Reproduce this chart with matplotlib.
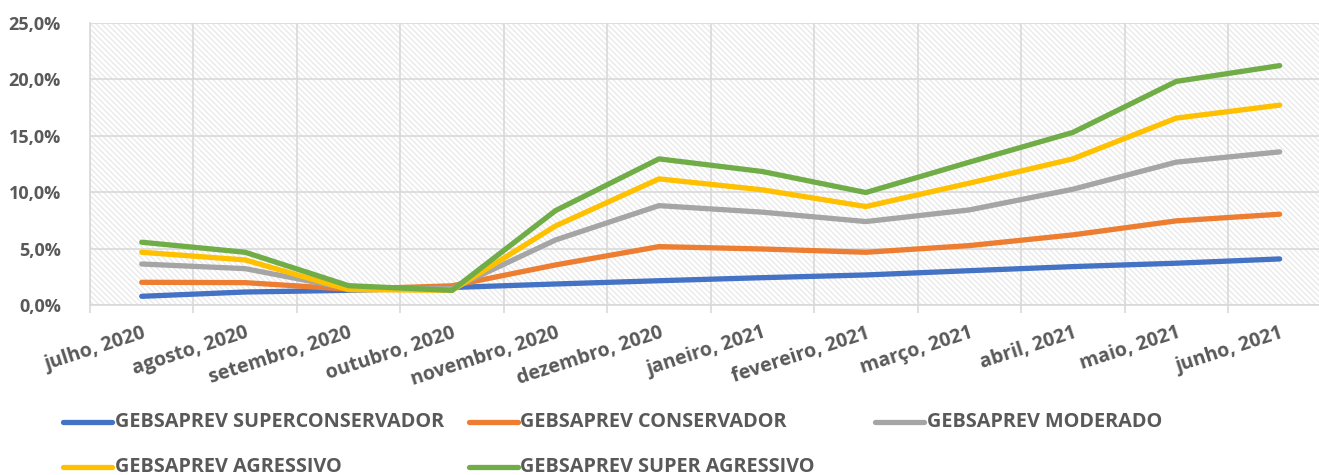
import numpy as np
import matplotlib.pyplot as plt
from matplotlib.lines import Line2D
from matplotlib.patches import Rectangle
from matplotlib.ticker import FuncFormatter

plt.rcParams['font.family'] = ['Open Sans', 'DejaVu Sans']
plt.rcParams['font.weight'] = 'bold'
plt.rcParams['hatch.linewidth'] = 0.9

# dados (rentabilidade acumulada, %)
meses = ['julho, 2020', 'agosto, 2020', 'setembro, 2020', 'outubro, 2020',
         'novembro, 2020', 'dezembro, 2020', 'janeiro, 2021', 'fevereiro, 2021',
         'março, 2021', 'abril, 2021', 'maio, 2021', 'junho, 2021']

superconservador = [0.77, 1.15, 1.30, 1.55, 1.86, 2.15, 2.42, 2.66, 3.04, 3.40, 3.70, 4.08]
conservador = [2.01, 1.98, 1.40, 1.70, 3.55, 5.17, 4.96, 4.67, 5.26, 6.21, 7.45, 8.04]
moderado = [3.63, 3.22, 1.45, 1.45, 5.76, 8.80, 8.22, 7.39, 8.42, 10.25, 12.65, 13.56]
agressivo = [4.67, 3.99, 1.36, 1.30, 7.00, 11.17, 10.20, 8.72, 10.79, 12.94, 16.55, 17.70]
super_agressivo = [5.56, 4.67, 1.71, 1.30, 8.36, 12.94, 11.82, 9.96, 12.65, 15.28, 19.80, 21.20]

series = [
    ('GEBSAPREV SUPERCONSERVADOR', superconservador, '#4472C4'),
    ('GEBSAPREV CONSERVADOR', conservador, '#ED7D31'),
    ('GEBSAPREV MODERADO', moderado, '#A5A5A5'),
    ('GEBSAPREV AGRESSIVO', agressivo, '#FFC000'),
    ('GEBSAPREV SUPER AGRESSIVO', super_agressivo, '#70AD47'),
]

W, H = 1319, 475
fig = plt.figure(figsize=(W / 100, H / 100), dpi=100)
ax = fig.add_axes([90 / W, 1 - 305 / H, (W - 90) / W, (305 - 22.7) / H])

# fundo hachurado estilo Excel
ax.add_patch(Rectangle((0, 0), 1, 1, transform=ax.transAxes, facecolor='white',
                       edgecolor='#E8E8E8', hatch='\\' * 6, lw=0, zorder=0))

x = np.arange(len(meses)) + 0.5
for nome, vals, cor in series:
    ax.plot(x, vals, color=cor, lw=3.8, solid_capstyle='round',
            solid_joinstyle='round', zorder=3, label=nome)

ax.set_xlim(0, (W - 90) / 103.45)
ax.set_ylim(0, 25)

ax.set_xticks(np.arange(0, 12))
ax.set_xticklabels([])
ax.set_xticks(x, minor=True)
ax.set_xticklabels(meses, minor=True, rotation=18, ha='right', va='top',
                   rotation_mode='anchor', fontsize=14, color='#595959',
                   fontweight='bold')
ax.tick_params(axis='x', which='major', length=6, color='#D9D9D9', width=1.2)
ax.tick_params(axis='x', which='minor', length=0, pad=13)

ax.set_yticks(np.arange(0, 26, 5))
ax.yaxis.set_major_formatter(FuncFormatter(lambda v, p: f'{v:.1f}%'.replace('.', ',')))
ax.tick_params(axis='y', length=0, pad=21, labelsize=13, labelcolor='#595959')
for t in ax.get_yticklabels():
    t.set_fontweight('bold')

ax.grid(True, which='major', color='#D9D9D9', lw=1.2, zorder=1)
ax.set_axisbelow(True)
for s in ['top', 'right']:
    ax.spines[s].set_visible(False)
for s in ['left', 'bottom']:
    ax.spines[s].set_color('#D9D9D9')
    ax.spines[s].set_linewidth(1.2)

# legenda manual (3 colunas como no Excel)
col_x = [63, 468.5, 875]
row_y = [421.7, 466.5]
for i, (nome, vals, cor) in enumerate(series):
    cx = col_x[i % 3]
    cy = 1 - row_y[i // 3] / H
    fig.add_artist(Line2D([cx / W, (cx + 49) / W], [cy, cy], transform=fig.transFigure,
                          color=cor, lw=3.8, solid_capstyle='round'))
    fig.text((cx + 52) / W, cy, nome, fontsize=14.3, color='#595959',
             fontweight='bold', va='center', ha='left')

fig.savefig('out.png', dpi=100)
